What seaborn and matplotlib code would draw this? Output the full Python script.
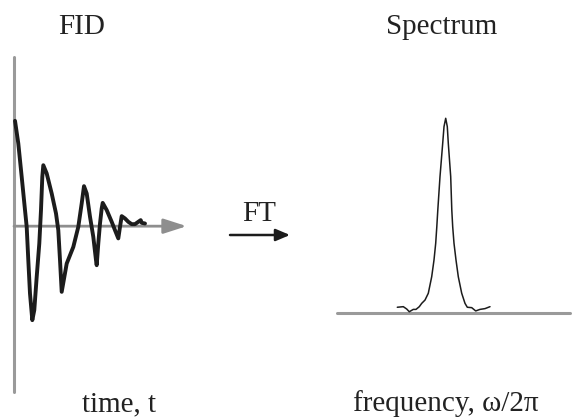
import numpy as np
import matplotlib
matplotlib.use("Agg")
import matplotlib.pyplot as plt
import seaborn as sns

# -----------------------------
# Data
# -----------------------------
# FID: time (arb. units) vs amplitude
fid_time = [0.058, 0.249, 0.446, 0.637, 0.735, 0.828, 0.926, 1.060, 1.175, 1.314,
            1.465, 1.563, 1.639, 1.697, 1.893, 2.183, 2.432, 2.565, 2.664, 2.762,
            3.052, 3.434, 3.723, 3.920, 4.053, 4.210, 4.401, 4.592, 4.748, 4.789,
            4.881, 4.980, 5.078, 5.136, 5.368, 5.657, 5.848, 6.039, 6.138, 6.236,
            6.427, 6.618, 6.815, 7.006, 7.197, 7.336, 7.394, 7.585]
fid_amp = [0.629, 0.494, 0.294, 0.096, -0.004, -0.203, -0.402, -0.561, -0.501, -0.303,
           -0.103, 0.096, 0.294, 0.364, 0.315, 0.195, 0.076, -0.024, -0.203, -0.392,
           -0.223, -0.124, -0.004, 0.136, 0.239, 0.195, 0.056, -0.064, -0.203, -0.233,
           -0.103, 0.016, 0.106, 0.139, 0.096, 0.026, -0.024, -0.073, -0.004, 0.060,
           0.046, 0.026, 0.012, 0.012, 0.026, 0.036, 0.020, 0.016]

# Spectrum: frequency offset vs intensity
spec_freq = [-4.84, -4.24, -3.90, -3.64, -3.24, -2.97, -2.64, -2.40, -2.07, -1.74,
             -1.40, -1.17, -1.00, -0.89, -0.79, -0.57, -0.30, -0.17, 0.00, 0.16,
             0.26, 0.50, 0.61, 0.70, 0.83, 1.03, 1.26, 1.60, 1.93, 2.16,
             2.60, 3.00, 3.43, 3.93, 4.43]
spec_int = [0.028, 0.031, 0.019, 0.005, 0.017, 0.017, 0.031, 0.048, 0.065, 0.100,
            0.185, 0.271, 0.357, 0.442, 0.528, 0.700, 0.871, 0.957, 1.000, 0.957,
            0.871, 0.700, 0.528, 0.442, 0.357, 0.271, 0.185, 0.100, 0.048, 0.028,
            0.026, 0.009, 0.017, 0.021, 0.031]

titles = ["FID", "Spectrum"]
xlabels = ["time, t", "frequency, ω/2π"]

# -----------------------------
# Figure
# -----------------------------
sns.set_style("white")
serif = ["Liberation Serif", "DejaVu Serif"]
W, H = 575, 417
fig = plt.figure(figsize=(W / 100, H / 100), dpi=100)


def box(x0, y0, x1, y1):
    return [x0 / W, 1 - y1 / H, (x1 - x0) / W, (y1 - y0) / H]


gray = "#9a9a9a"
ink = "#1c1c1c"

# FID panel
ax_fid = fig.add_axes(box(14, 57, 186.7, 392))
ax_fid.set_xlim(0, 10)
ax_fid.set_ylim(-0.99, 1.01)
ax_fid.axvline(0, color=gray, lw=2.2, zorder=1, clip_on=False)
ax_fid.annotate("", xy=(10, 0), xytext=(0, 0),
                arrowprops=dict(arrowstyle="-|>,head_length=1.4,head_width=0.45",
                                mutation_scale=10, color="#8e8e8e", lw=2,
                                shrinkA=0, shrinkB=0), zorder=1)
sns.lineplot(x=fid_time, y=fid_amp, ax=ax_fid, color=ink, lw=2.8, sort=False,
             estimator=None, solid_joinstyle="round", solid_capstyle="round",
             clip_on=False, zorder=3)
ax_fid.axis("off")

# Spectrum panel
ax_spec = fig.add_axes(box(337, 118.3, 570, 312.7))
ax_spec.set_xlim(-10.87, 12.43)
ax_spec.set_ylim(0, 1)
ax_spec.axhline(0, color=gray, lw=2.2, zorder=1, clip_on=False)
sns.lineplot(x=spec_freq, y=spec_int, ax=ax_spec, color=ink, lw=1.1, sort=False,
             estimator=None, clip_on=False, zorder=3)
ax_spec.axis("off")

# FT arrow between panels
ax_fid.annotate("", xy=(290 / W, 1 - 235 / H), xytext=(230 / W, 1 - 235 / H),
                xycoords="figure fraction", textcoords="figure fraction",
                arrowprops=dict(arrowstyle="-|>,head_length=0.85,head_width=0.36",
                                mutation_scale=10, color=ink, lw=1.8,
                                shrinkA=0, shrinkB=0), annotation_clip=False)
fig.text(259 / W, 1 - 220.7 / H, "FT", ha="center", va="baseline",
         fontsize=21, family=serif, color="#222222")

# Titles and labels
for x, t in zip([82, 442], titles):
    fig.text(x / W, 1 - 34 / H, t, ha="center", va="baseline",
             fontsize=21, family=serif, color="#222222")
for x, t in zip([119, 446], xlabels):
    fig.text(x / W, 1 - 411 / H, t, ha="center", va="baseline",
             fontsize=21, family=serif, color="#222222")

fig.savefig("out.png", dpi=100)
